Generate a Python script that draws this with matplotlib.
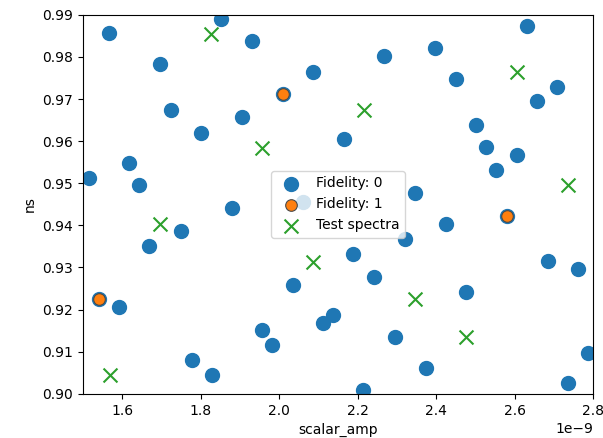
import matplotlib
matplotlib.use("Agg")
import matplotlib.pyplot as plt

# Fidelity 0 training points (scalar_amp in units of 1e-9, ns)
fid0_amp = [1.567, 1.852, 1.930, 1.696, 2.087, 2.009, 1.7235, 1.9045, 1.801, 1.618,
            1.516, 1.6435, 1.879, 2.633, 2.397, 2.268, 2.451, 2.709, 2.658, 2.502,
            2.165, 2.527, 2.6055, 2.553, 2.346, 2.5816, 1.750, 1.669, 2.036, 1.541,
            1.5925, 2.1125, 2.138, 1.9555, 1.9826, 1.777, 1.828, 2.4245, 2.321,
            2.189, 2.6845, 2.761, 2.2425, 2.476, 2.295, 2.7865, 2.3735, 2.7355,
            2.2145, 2.0615]
fid0_ns = [0.9856, 0.9891, 0.9837, 0.9784, 0.9764, 0.9711, 0.9675, 0.9657, 0.9620, 0.9549,
           0.9513, 0.9495, 0.9442, 0.9874, 0.9820, 0.9802, 0.9747, 0.9729, 0.9695, 0.9639,
           0.9604, 0.9586, 0.9568, 0.9531, 0.9477, 0.9422, 0.9386, 0.9350, 0.9259, 0.9224,
           0.9206, 0.9169, 0.9188, 0.9152, 0.9115, 0.9080, 0.9044, 0.9404, 0.9367,
           0.9333, 0.9315, 0.9296, 0.9277, 0.9242, 0.9135, 0.9097, 0.9061, 0.9026,
           0.9008, 0.9456]

# Fidelity 1 points
fid1_amp = [2.009, 1.541, 2.5816]
fid1_ns = [0.9711, 0.9224, 0.9422]

# Test spectra
test_amp = [1.826, 1.9555, 2.6055, 2.217, 2.737, 1.696, 2.087, 2.346, 2.4755, 1.569]
test_ns = [0.9854, 0.9584, 0.9764, 0.9673, 0.9495, 0.9404, 0.9313, 0.9224, 0.9135, 0.9044]

scale = 1e-9

fig = plt.figure(figsize=(6.03, 4.38), dpi=100)
ax = fig.add_axes([83 / 603, 1 - 393.8 / 438, 510 / 603, 379 / 438])

ax.scatter([a * scale for a in fid0_amp], fid0_ns, s=100, color="#1f77b4", label="Fidelity: 0", zorder=2)
ax.scatter([a * scale for a in fid1_amp], fid1_ns, s=70, color="#ff7f0e", edgecolors="#4a4a4a",
           linewidths=0.8, label="Fidelity: 1", zorder=3)
ax.scatter([a * scale for a in test_amp], test_ns, s=100, marker="x", color="#2ca02c",
           linewidths=1.5, label="Test spectra", zorder=4)

ax.set_xlim(1.5e-9, 2.8e-9)
ax.set_ylim(0.90, 0.99)
ax.set_xticks([1.6e-9, 1.8e-9, 2.0e-9, 2.2e-9, 2.4e-9, 2.6e-9, 2.8e-9])
ax.set_yticks([0.90, 0.91, 0.92, 0.93, 0.94, 0.95, 0.96, 0.97, 0.98, 0.99])
ax.set_xlabel("scalar_amp")
ax.set_ylabel("ns")
ax.legend(loc="center")

fig.savefig("out.png", dpi=100)
